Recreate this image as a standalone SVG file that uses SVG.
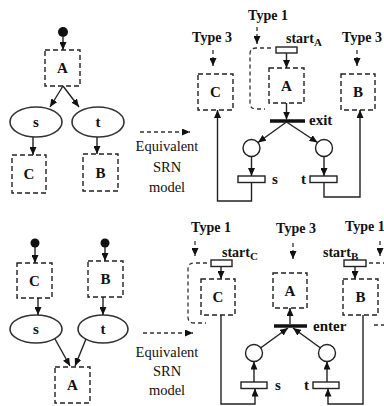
<svg xmlns="http://www.w3.org/2000/svg" width="384" height="406" viewBox="0 0 384 406">
<style>
.t{font-family:"Liberation Serif","Times New Roman",serif;fill:#111}
.b{font-weight:bold}
.box{fill:none;stroke:#222;stroke-width:1.4;stroke-dasharray:5,3}
.ell{fill:#fff;stroke:#333;stroke-width:1.6}
.pl{fill:#fff;stroke:#222;stroke-width:1.4}
.tr{fill:#fff;stroke:#222;stroke-width:1.4}
.ln{fill:none;stroke:#222;stroke-width:1.4}
.dl{fill:none;stroke:#333;stroke-width:1.3;stroke-dasharray:4,3}
.bar{stroke:#111;stroke-width:3.5}
</style>
<defs>
<marker id="ah" markerUnits="userSpaceOnUse" markerWidth="8" markerHeight="7" refX="8" refY="3.5" orient="auto">
<path d="M0,0 L8,3.5 L0,7 z" fill="#111"/>
</marker>
</defs>

<!-- top-left tree -->
<g id="tl-token"><circle cx="63" cy="32" r="5" fill="#111"/></g>
<g id="tl-A"><rect class="box" x="45" y="50" width="35" height="36"/><text class="t b" x="62.5" y="73" font-size="15" text-anchor="middle">A</text></g>
<g id="tl-s"><ellipse class="ell" cx="36" cy="122" rx="26" ry="15"/><text class="t b" x="36" y="127" font-size="15" text-anchor="middle">s</text></g>
<g id="tl-t"><ellipse class="ell" cx="98" cy="122" rx="26" ry="15"/><text class="t b" x="98" y="127" font-size="15" text-anchor="middle">t</text></g>
<g id="tl-C"><rect class="box" x="12" y="155" width="34" height="38"/><text class="t b" x="29" y="179" font-size="15" text-anchor="middle">C</text></g>
<g id="tl-B"><rect class="box" x="83" y="154" width="35" height="37"/><text class="t b" x="100.5" y="178" font-size="15" text-anchor="middle">B</text></g>

<!-- bottom-left tree -->
<g id="bl-tokC"><circle cx="35" cy="243" r="4.5" fill="#111"/></g>
<g id="bl-tokB"><circle cx="105" cy="243" r="4.5" fill="#111"/></g>
<g id="bl-C"><rect class="box" x="17" y="263" width="35" height="35"/><text class="t b" x="34.5" y="286" font-size="15" text-anchor="middle">C</text></g>
<g id="bl-B"><rect class="box" x="88" y="261" width="35" height="36"/><text class="t b" x="105.5" y="284" font-size="15" text-anchor="middle">B</text></g>
<g id="bl-s"><ellipse class="ell" cx="36" cy="329" rx="26" ry="14"/><text class="t b" x="36" y="334" font-size="15" text-anchor="middle">s</text></g>
<g id="bl-t"><ellipse class="ell" cx="103" cy="329" rx="25" ry="14"/><text class="t b" x="103" y="334" font-size="15" text-anchor="middle">t</text></g>
<g id="bl-A"><rect class="box" x="55" y="367" width="35" height="36"/><text class="t b" x="72.5" y="390" font-size="15" text-anchor="middle">A</text></g>

<!-- equivalent labels -->
<g id="eq-top">
<text class="t" x="167" y="151" font-size="14.5" text-anchor="middle">Equivalent</text>
<text class="t" x="167" y="172" font-size="14.5" text-anchor="middle">SRN</text>
<text class="t" x="167" y="192" font-size="14.5" text-anchor="middle">model</text>
</g>
<g id="eq-bot">
<text class="t" x="167" y="357" font-size="14.5" text-anchor="middle">Equivalent</text>
<text class="t" x="167" y="376" font-size="14.5" text-anchor="middle">SRN</text>
<text class="t" x="167" y="395" font-size="14.5" text-anchor="middle">model</text>
</g>

<!-- top-right SRN -->
<g id="tr-type1"><text class="t b" x="268" y="20" font-size="14" text-anchor="middle">Type 1</text></g>
<g id="tr-type3a"><text class="t b" x="212" y="42" font-size="14" text-anchor="middle">Type 3</text></g>
<g id="tr-type3b"><text class="t b" x="362" y="42" font-size="14" text-anchor="middle">Type 3</text></g>
<g id="tr-C"><rect class="box" x="198" y="74" width="35" height="36"/><text class="t b" x="215.5" y="97" font-size="15" text-anchor="middle">C</text></g>
<g id="tr-A"><rect class="box" x="269" y="68" width="35" height="35"/><text class="t b" x="286.5" y="91" font-size="15" text-anchor="middle">A</text></g>
<g id="tr-B"><rect class="box" x="341" y="74" width="34" height="36"/><text class="t b" x="358" y="97" font-size="15" text-anchor="middle">B</text></g>
<g id="tr-startA"><rect class="tr" x="276" y="47" width="21" height="6"/><text class="t b" x="286" y="43" font-size="14">start<tspan font-size="11" dy="3">A</tspan></text></g>
<g id="tr-exit"><line class="bar" x1="270" y1="121" x2="305" y2="121"/><text class="t b" x="309" y="125" font-size="15">exit</text></g>
<g id="tr-p1"><circle class="pl" cx="251.5" cy="148" r="8.5"/></g>
<g id="tr-p2"><circle class="pl" cx="324" cy="148" r="8.5"/></g>
<g id="tr-s"><rect class="tr" x="238" y="176" width="27" height="6.5"/><text class="t b" x="272" y="184" font-size="15">s</text></g>
<g id="tr-t"><rect class="tr" x="310" y="176" width="27" height="6.5"/><text class="t b" x="301" y="184" font-size="15">t</text></g>
<g id="tr-loop"><path class="dl" d="M271,48 L256,48 Q250,48 250,54 L250,103 Q250,109 256,109 L265,109"/></g>

<!-- bottom-right SRN -->
<g id="br-type1a"><text class="t b" x="211" y="232" font-size="14" text-anchor="middle">Type 1</text></g>
<g id="br-type3"><text class="t b" x="296" y="233" font-size="14" text-anchor="middle">Type 3</text></g>
<g id="br-type1b"><text class="t b" x="345" y="231" font-size="14">Type 1</text></g>
<g id="br-C"><rect class="box" x="201" y="279" width="34" height="36"/><text class="t b" x="218" y="302" font-size="15" text-anchor="middle">C</text></g>
<g id="br-A"><rect class="box" x="273" y="273" width="34" height="35"/><text class="t b" x="290" y="296" font-size="15" text-anchor="middle">A</text></g>
<g id="br-B"><rect class="box" x="343" y="279" width="35" height="36"/><text class="t b" x="360.5" y="302" font-size="15" text-anchor="middle">B</text></g>
<g id="br-startC"><rect class="tr" x="211" y="260" width="21" height="6.5"/><text class="t b" x="222" y="257" font-size="14">start<tspan font-size="11" dy="3">C</tspan></text></g>
<g id="br-startB"><rect class="tr" x="344" y="260" width="22" height="6.5"/><text class="t b" x="323" y="257" font-size="14">start<tspan font-size="11" dy="3">B</tspan></text></g>
<g id="br-enter"><line class="bar" x1="274" y1="326" x2="307" y2="326"/><text class="t b" x="313" y="331" font-size="15">enter</text></g>
<g id="br-p1"><circle class="pl" cx="254" cy="353" r="8.5"/></g>
<g id="br-p2"><circle class="pl" cx="327" cy="353" r="8.5"/></g>
<g id="br-s"><rect class="tr" x="241" y="382" width="26" height="6.5"/><text class="t b" x="275" y="390" font-size="15">s</text></g>
<g id="br-t"><rect class="tr" x="313" y="382" width="26" height="6.5"/><text class="t b" x="304" y="390" font-size="15">t</text></g>
<g id="br-loopC"><path class="dl" d="M207,263 L194,263 Q188,263 188,269 L188,317 Q188,323 194,323 L206,323"/></g>
<g id="br-loopB"><path class="dl" d="M369,263 L388,263"/><path class="dl" d="M374,325 L388,325"/></g>

<!-- connectors -->
<g id="connectors">
<!-- top-left -->
<line class="ln" x1="63" y1="37" x2="63" y2="50" marker-end="url(#ah)"/>
<line class="ln" x1="63" y1="86" x2="50" y2="107" marker-end="url(#ah)"/>
<line class="ln" x1="63" y1="86" x2="79" y2="107" marker-end="url(#ah)"/>
<line class="ln" x1="33" y1="137" x2="33" y2="155" marker-end="url(#ah)"/>
<line class="ln" x1="97" y1="137" x2="97" y2="154" marker-end="url(#ah)"/>
<!-- bottom-left -->
<line class="ln" x1="35" y1="247" x2="35" y2="263" marker-end="url(#ah)"/>
<line class="ln" x1="105" y1="247" x2="105" y2="261" marker-end="url(#ah)"/>
<line class="ln" x1="38" y1="298" x2="38" y2="315" marker-end="url(#ah)"/>
<line class="ln" x1="103" y1="297" x2="103" y2="315" marker-end="url(#ah)"/>
<line class="ln" x1="55" y1="339" x2="70" y2="366" marker-end="url(#ah)"/>
<line class="ln" x1="86" y1="339" x2="75" y2="366" marker-end="url(#ah)"/>
<!-- equivalent arrows -->
<line class="dl" x1="140" y1="132" x2="190" y2="132" marker-end="url(#ah)"/>
<line class="dl" x1="143" y1="333" x2="193" y2="333" marker-end="url(#ah)"/>
<!-- top-right -->
<line class="dl" x1="257" y1="27" x2="257" y2="44" marker-end="url(#ah)"/>
<line class="dl" x1="213" y1="50" x2="213" y2="66" marker-end="url(#ah)"/>
<line class="dl" x1="357" y1="50" x2="357" y2="66" marker-end="url(#ah)"/>
<line class="ln" x1="286.5" y1="53" x2="286.5" y2="68" marker-end="url(#ah)"/>
<line class="ln" x1="286.5" y1="103" x2="286.5" y2="119.5" marker-end="url(#ah)"/>
<line class="ln" x1="286.5" y1="122" x2="258" y2="142.5" marker-end="url(#ah)"/>
<line class="ln" x1="286.5" y1="122" x2="317.5" y2="142.5" marker-end="url(#ah)"/>
<line class="ln" x1="251.5" y1="156.5" x2="251.5" y2="176" marker-end="url(#ah)"/>
<line class="ln" x1="324" y1="156.5" x2="324" y2="176" marker-end="url(#ah)"/>
<path class="ln" d="M251.5,182.5 L251.5,201 L217.5,201 L217.5,110" marker-end="url(#ah)"/>
<path class="ln" d="M324,182.5 L324,197 L360,197 L360,110" marker-end="url(#ah)"/>
<!-- bottom-right -->
<line class="dl" x1="195" y1="241" x2="195" y2="256" marker-end="url(#ah)"/>
<line class="dl" x1="293" y1="243" x2="293" y2="259" marker-end="url(#ah)"/>
<line class="dl" x1="380" y1="241" x2="380" y2="256" marker-end="url(#ah)"/>
<line class="ln" x1="221" y1="266.5" x2="221" y2="279" marker-end="url(#ah)"/>
<line class="ln" x1="355" y1="266.5" x2="355" y2="279" marker-end="url(#ah)"/>
<line class="ln" x1="290" y1="324" x2="290" y2="308" marker-end="url(#ah)"/>
<line class="ln" x1="260.5" y1="348" x2="288" y2="328" marker-end="url(#ah)"/>
<line class="ln" x1="320.5" y1="348" x2="293" y2="328" marker-end="url(#ah)"/>
<line class="ln" x1="254" y1="382" x2="254" y2="361.5" marker-end="url(#ah)"/>
<line class="ln" x1="327" y1="382" x2="327" y2="361.5" marker-end="url(#ah)"/>
<path class="ln" d="M221,315 L221,404 L255,404 L255,388.5" marker-end="url(#ah)"/>
<path class="ln" d="M363,315 L363,404 L328,404 L328,388.5" marker-end="url(#ah)"/>
</g>
</svg>
